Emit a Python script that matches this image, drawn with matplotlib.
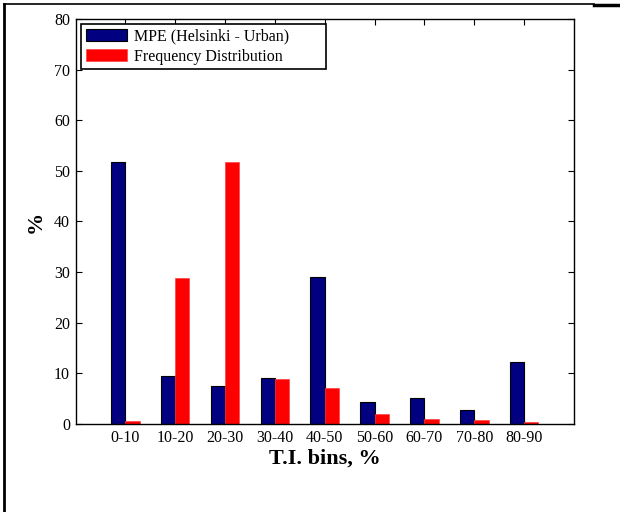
import matplotlib
matplotlib.use("Agg")
import matplotlib.pyplot as plt
from matplotlib.lines import Line2D
import numpy as np

plt.rcParams['font.family'] = ['Liberation Serif', 'DejaVu Serif']

bins = ['0-10', '10-20', '20-30', '30-40', '40-50', '50-60', '60-70', '70-80', '80-90']
mpe = [51.8, 9.5, 7.6, 9.1, 29.1, 4.4, 5.1, 2.8, 12.3]
freq = [0.6, 28.8, 51.8, 8.9, 7.2, 2.0, 1.0, 0.7, 0.4]
yticks = [0, 10, 20, 30, 40, 50, 60, 70, 80]

fig = plt.figure(figsize=(6.2, 5.12), dpi=100)
ax = fig.add_axes([0.1218, 0.1719, 0.804, 0.791])

x = np.arange(1, len(bins) + 1)
w = 0.286
ax.bar(x - w / 2, mpe, w, color='#000080', edgecolor='black', linewidth=0.8,
       label='MPE (Helsinki - Urban)', zorder=2)
ax.bar(x + w / 2, freq, w, color='#FF0000', edgecolor='#FF4040', linewidth=0.5,
       label='Frequency Distribution', zorder=2)

ax.set_xlim(0, 10)
ax.set_ylim(0, 80)
ax.set_xticks(x)
ax.set_xticklabels(bins)
ax.set_yticks(yticks)
ax.tick_params(direction='in', top=True, right=True, length=4, width=0.8,
               labelsize=11.5, pad=4)
for s in ax.spines.values():
    s.set_linewidth(1.0)

ax.set_xlabel('T.I. bins, %', fontsize=16, fontweight='bold', labelpad=2)
ax.set_ylabel('%', fontsize=16, fontweight='bold', labelpad=6)

leg = ax.legend(loc='upper left', bbox_to_anchor=(0.011, 0.988, 0.491, 0.0),
                mode='expand', borderaxespad=0,
                fancybox=False, edgecolor='black', framealpha=1, fontsize=11.5,
                handlelength=2.6, handleheight=0.85, handletextpad=0.4,
                borderpad=0.3, labelspacing=0.25)
leg.get_frame().set_linewidth(1.2)

# page border lines
W, H = 620.0, 512.0
fig.add_artist(Line2D([4 / W, 4 / W], [0, 1 - 4 / H], transform=fig.transFigure,
                      color='black', linewidth=2))
fig.add_artist(Line2D([4 / W, 594 / W], [1 - 4 / H, 1 - 4 / H], transform=fig.transFigure,
                      color='black', linewidth=1.2))
fig.add_artist(Line2D([594 / W, 1], [1 - 5 / H, 1 - 5 / H], transform=fig.transFigure,
                      color='black', linewidth=2.5))

fig.savefig('out.png', dpi=100)
